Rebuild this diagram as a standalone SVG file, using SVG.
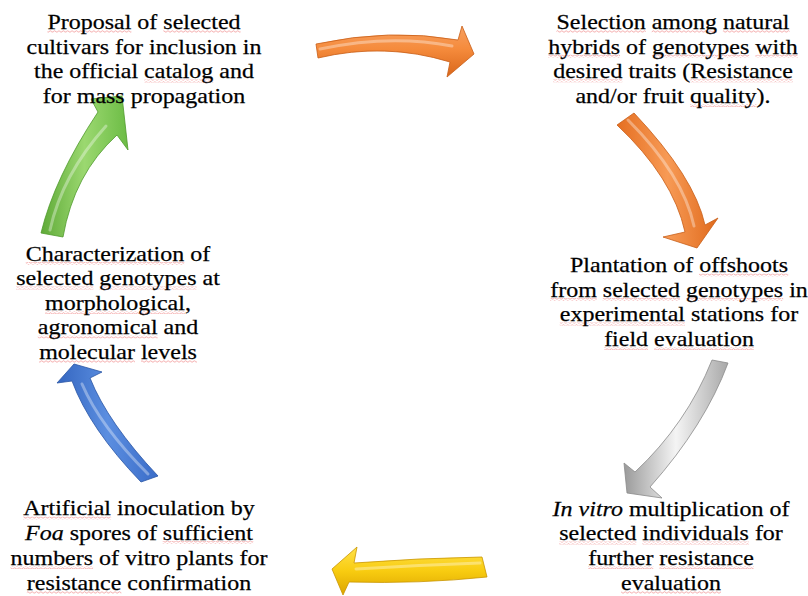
<svg xmlns="http://www.w3.org/2000/svg" width="808" height="596" viewBox="0 0 808 596">
<defs>
<style>
.t{font-family:"Liberation Serif","Times New Roman",serif;font-size:22px;fill:#000;stroke:#000;stroke-width:0.25;text-anchor:middle}
.i{font-style:italic}
.sq{fill:url(#wave)}
.ar{stroke-width:0.8;stroke-linejoin:round}
.hl{fill:none;stroke:#fff;stroke-opacity:0.35;stroke-width:3;stroke-linecap:round}
</style>
<pattern id="wave" width="4" height="3" patternUnits="userSpaceOnUse"><polyline points="0,2.3 2,0.7 4,2.3" fill="none" stroke="#f3a3a3" stroke-width="0.8"/></pattern>
<linearGradient id="gOrH" x1="0" y1="0" x2="0" y2="1"><stop offset="0" stop-color="#f7a060"/><stop offset="0.45" stop-color="#f58b3c"/><stop offset="1" stop-color="#d9661a"/></linearGradient>
<linearGradient id="gOrV" x1="0" y1="0" x2="1" y2="0"><stop offset="0" stop-color="#e56f22"/><stop offset="0.5" stop-color="#f79a55"/><stop offset="1" stop-color="#e06a1c"/></linearGradient>
<linearGradient id="gGr" x1="0" y1="0" x2="1" y2="0"><stop offset="0" stop-color="#9a9a9a"/><stop offset="0.5" stop-color="#f4f4f4"/><stop offset="1" stop-color="#a8a8a8"/></linearGradient>
<linearGradient id="gYe" x1="0" y1="0" x2="0" y2="1"><stop offset="0" stop-color="#ffe14a"/><stop offset="0.5" stop-color="#f8cc10"/><stop offset="1" stop-color="#dca500"/></linearGradient>
<linearGradient id="gBl" x1="0" y1="0" x2="1" y2="0"><stop offset="0" stop-color="#3466c0"/><stop offset="0.5" stop-color="#5b8ee0"/><stop offset="1" stop-color="#3a6cc8"/></linearGradient>
<linearGradient id="gGn" x1="0" y1="0" x2="1" y2="0"><stop offset="0" stop-color="#5faa38"/><stop offset="0.5" stop-color="#9bd870"/><stop offset="1" stop-color="#6cbc45"/></linearGradient>
</defs>
<rect width="808" height="596" fill="#fff"/>

<g id="connectors">
<path class="ar" fill="url(#gOrH)" stroke="#c85e18" d="M316,44 Q390,28 458,40 L462,26 L474,54 L447,77 L450,62 Q385,42 318,58 Z"/>
<path class="hl" d="M320,49 Q390,34 452,46"/>
<path class="ar" fill="url(#gOrV)" stroke="#c85e18" d="M634,113 Q694.5,177 705,225 L718,218 L697,248 L663,237 L685,232 Q673,177.5 617,125 Z"/>
<path class="hl" d="M628,120 Q683,175 694,226"/>
<path class="ar" fill="url(#gGr)" stroke="#8a8a8a" d="M712,360 L728,363 Q705,425 650,487 L662,498 L627,493 L624,463 L635,472 Q686.5,424 712,360 Z"/>
<path class="ar" fill="url(#gYe)" stroke="#c99600" d="M482,557 L487,577 Q420,584 349,582 L343,595 L332,569 L357,547 L354,563 Q420,558 482,557 Z"/>
<path class="hl" d="M480,563 Q420,565 356,569"/>
<path class="ar" fill="url(#gBl)" stroke="#2a55a5" d="M141,482 L158,476 Q108,423 90,378 L102,372 L74,364 L57,383 L72,381 Q89.5,428.5 141,482 Z"/>
<path class="hl" d="M148,474 Q100,426 82,384"/>
<path class="ar" fill="url(#gGn)" stroke="#4f9a2c" d="M41,233 L63,237 Q74,174 117,135 L128,150 L122,96 L91,99 L98,112 Q54.5,177.5 41,233 Z"/>
<path class="hl" d="M50,230 Q62,175 106,126"/>
</g>

<g id="n1" transform="translate(144,0) scale(1.09,1)">
<rect class="sq" x="-88.6" y="30" width="77" height="3"/>
<rect class="sq" x="17.7" y="30" width="70.9" height="3"/>
<rect class="sq" x="0.3" y="79.5" width="63.5" height="3"/>
<text class="t"><tspan x="0" y="29">Proposal of selected</tspan><tspan x="0" y="53.7">cultivars for inclusion in</tspan><tspan x="0" y="78.3">the official catalog and</tspan><tspan x="0" y="103">for mass propagation</tspan></text>
</g>

<g id="n2" transform="translate(673,0) scale(1.09,1)">
<rect class="sq" x="-106.9" y="30" width="81.9" height="3"/>
<rect class="sq" x="-19.5" y="30" width="59.9" height="3"/>
<rect class="sq" x="45.8" y="30" width="61.1" height="3"/>
<rect class="sq" x="-114.6" y="54.7" width="66" height="3"/>
<rect class="sq" x="-19.3" y="54.7" width="89.2" height="3"/>
<rect class="sq" x="75.5" y="54.7" width="39.1" height="3"/>
<rect class="sq" x="-110" y="79.3" width="63.5" height="3"/>
<rect class="sq" x="15.9" y="79.3" width="94.1" height="3"/>
<rect class="sq" x="15.6" y="104" width="61.1" height="3"/>
<text class="t"><tspan x="0" y="29">Selection among natural</tspan><tspan x="0" y="53.7">hybrids of genotypes with</tspan><tspan x="0" y="78.3">desired traits (Resistance</tspan><tspan x="0" y="103">and/or fruit quality).</tspan></text>
</g>

<g id="n3" transform="translate(679,0) scale(1.09,1)">
<rect class="sq" x="18.3" y="273.5" width="81.9" height="3"/>
<rect class="sq" x="-118.2" y="298" width="42.8" height="3"/>
<rect class="sq" x="-70" y="298" width="70.9" height="3"/>
<rect class="sq" x="6.4" y="298" width="89.2" height="3"/>
<rect class="sq" x="-109.4" y="322.5" width="114.9" height="3"/>
<rect class="sq" x="-68.7" y="347" width="40.3" height="3"/>
<rect class="sq" x="-22.9" y="347" width="91.7" height="3"/>
<text class="t"><tspan x="0" y="272.5">Plantation of offshoots</tspan><tspan x="0" y="297">from selected genotypes in</tspan><tspan x="0" y="321.5">experimental stations for</tspan><tspan x="0" y="346">field evaluation</tspan></text>
</g>

<g id="n4" transform="translate(118,0) scale(1.09,1)">
<rect class="sq" x="-84.6" y="262" width="145.4" height="3"/>
<rect class="sq" x="-93.5" y="286.5" width="70.9" height="3"/>
<rect class="sq" x="-17.1" y="286.5" width="89.2" height="3"/>
<rect class="sq" x="-66.9" y="311" width="128.3" height="3"/>
<rect class="sq" x="-73.6" y="335.5" width="110" height="3"/>
<rect class="sq" x="-72.4" y="360" width="88" height="3"/>
<rect class="sq" x="21.1" y="360" width="51.3" height="3"/>
<text class="t"><tspan x="0" y="261">Characterization of</tspan><tspan x="0" y="285.5">selected genotypes at</tspan><tspan x="0" y="310">morphological,</tspan><tspan x="0" y="334.5">agronomical and</tspan><tspan x="0" y="359">molecular levels</tspan></text>
</g>

<g id="n5" transform="translate(139,0) scale(1.09,1)">
<rect class="sq" x="-106.3" y="516.5" width="80.7" height="3"/>
<rect class="sq" x="21.7" y="541" width="83.1" height="3"/>
<rect class="sq" x="-117.9" y="566" width="75.8" height="3"/>
<rect class="sq" x="-102.9" y="591" width="86.7" height="3"/>
<text class="t"><tspan x="0" y="515.5">Artificial inoculation by</tspan><tspan x="0" y="540"><tspan class="i">Foa</tspan> spores of sufficient</tspan><tspan x="0" y="565">numbers of vitro plants for</tspan><tspan x="0" y="590">resistance confirmation</tspan></text>
</g>

<g id="n6" transform="translate(671,0) scale(1.09,1)">
<rect class="sq" x="-102.7" y="541.5" width="70.9" height="3"/>
<rect class="sq" x="-26.3" y="541.5" width="97.8" height="3"/>
<rect class="sq" x="-76.1" y="566" width="59.9" height="3"/>
<rect class="sq" x="-10.7" y="566" width="86.7" height="3"/>
<rect class="sq" x="-45.8" y="591" width="91.7" height="3"/>
<text class="t"><tspan x="0" y="516"><tspan class="i">In vitro</tspan> multiplication of</tspan><tspan x="0" y="540.5">selected individuals for</tspan><tspan x="0" y="565">further resistance</tspan><tspan x="0" y="590">evaluation</tspan></text>
</g>
</svg>
